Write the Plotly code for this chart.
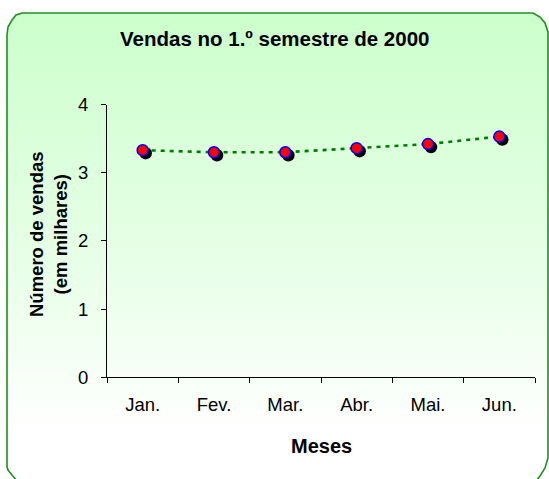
import plotly.graph_objects as go

# ---- data ----
months = ["Jan.", "Fev.", "Mar.", "Abr.", "Mai.", "Jun."]
sales = [3.33, 3.30, 3.30, 3.36, 3.42, 3.53]
y_ticks = [0, 1, 2, 3, 4]
title_text = "Vendas no 1.º semestre de 2000"
x_title = "Meses"
y_title = "Número de vendas<br>(em milhares)"

W, H = 549, 479
FONT = "Liberation Sans, Arial, sans-serif"

# plot area in pixels
L, R, T, B = 107, 535, 104.5, 377.3
SH = 3  # shadow offset px

def dx(px):
    return px / W

def dy(px):
    return 1 - px / H

fig = go.Figure()

# background frame (chamfered / rounded rectangle with vertical gradient)
fx = [7, 8, 12, 16, 22, 533, 540, 545, 548, 548, 545, 540, 535, 18, 12, 8, 7, 7]
fy = [35, 27, 20, 15, 13, 13, 17, 23, 32, 458, 468, 476, 482, 482, 475, 470, 467, 35]
fig.add_trace(go.Scatter(
    x=fx, y=fy, xaxis="x", yaxis="y", mode="lines", fill="toself",
    line=dict(color="#1f8f1f", width=1.6),
    fillgradient=dict(type="vertical", start=13, stop=479,
                      colorscale=[[0, "#ccffcc"], [0.55, "#e8ffe8"], [0.9, "#ffffff"], [1, "#ffffff"]]),
    hoverinfo="skip", showlegend=False))

# dotted line (main axes)
fig.add_trace(go.Scatter(
    x=months, y=sales, xaxis="x2", yaxis="y2", mode="lines",
    line=dict(color="#007a00", width=2.6, dash="4px,5px"),
    hoverinfo="skip", showlegend=False))

# marker shadows (offset axes)
fig.add_trace(go.Scatter(
    x=months, y=sales, xaxis="x3", yaxis="y3", mode="markers",
    marker=dict(color="black", size=12.5, line=dict(width=0)),
    hoverinfo="skip", showlegend=False))

# markers
fig.add_trace(go.Scatter(
    x=months, y=sales, xaxis="x4", yaxis="y4", mode="markers",
    marker=dict(color="#ff0000", size=11, line=dict(color="#0000ff", width=1.5)),
    hoverinfo="skip", showlegend=False))

hidden = dict(visible=False, showgrid=False, zeroline=False, fixedrange=True, automargin=False)

fig.update_layout(
    width=W, height=H, autosize=False,
    margin=dict(l=0, r=0, t=0, b=0, pad=0, autoexpand=False),
    paper_bgcolor="white", plot_bgcolor="rgba(0,0,0,0)",
    font=dict(family=FONT, color="black", size=18),
    showlegend=False,
    xaxis=dict(domain=[0, 1], range=[0, W], anchor="y", **hidden),
    yaxis=dict(domain=[0, 1], range=[H, 0], anchor="x", **hidden),
    xaxis2=dict(domain=[dx(L), dx(R)], anchor="y2", type="category",
                categoryorder="array", categoryarray=months,
                range=[-0.5, 5.5], tickson="boundaries",
                ticks="outside", ticklen=5, tickcolor="black", tickwidth=1,
                showline=True, linecolor="black", linewidth=1,
                showgrid=False, zeroline=False, automargin=False,
                tickfont=dict(size=18.5, family=FONT), ticklabelstandoff=10),
    yaxis2=dict(domain=[dy(B), dy(T)], anchor="x2", range=[0, 4],
                tickvals=y_ticks, ticks="outside", ticklen=5, tickcolor="black",
                showline=True, linecolor="black", linewidth=1,
                showgrid=False, zeroline=False, automargin=False,
                tickfont=dict(size=18.5, family=FONT), ticklabelstandoff=9),
    xaxis3=dict(domain=[dx(L + SH), dx(R + SH)], anchor="y3", type="category",
                categoryorder="array", categoryarray=months,
                range=[-0.5, 5.5], **hidden),
    yaxis3=dict(domain=[dy(B + SH), dy(T + SH)], anchor="x3", range=[0, 4], **hidden),
    xaxis4=dict(domain=[dx(L), dx(R)], anchor="y4", type="category",
                categoryorder="array", categoryarray=months,
                range=[-0.5, 5.5], **hidden),
    yaxis4=dict(domain=[dy(B), dy(T)], anchor="x4", range=[0, 4], **hidden),
    annotations=[
        dict(text="<b>" + title_text + "</b>", x=dx(274), y=dy(38), xref="paper", yref="paper",
             showarrow=False, xanchor="center", yanchor="middle", font=dict(size=20.5, family=FONT)),
        dict(text="<b>" + x_title + "</b>", x=dx((L + R) / 2), y=dy(446), xref="paper", yref="paper",
             showarrow=False, xanchor="center", yanchor="middle", font=dict(size=20, family=FONT)),
        dict(text="<b>" + y_title + "</b>", x=dx(48), y=dy(234), xref="paper", yref="paper",
             showarrow=False, xanchor="center", yanchor="middle", textangle=-90,
             font=dict(size=18.5, family=FONT)),
    ],
)

fig.write_html(
    "out.html",
    config={"displayModeBar": False, "staticPlot": True},
    post_script="document.body.style.margin='0';document.body.style.overflow='hidden';",
)
